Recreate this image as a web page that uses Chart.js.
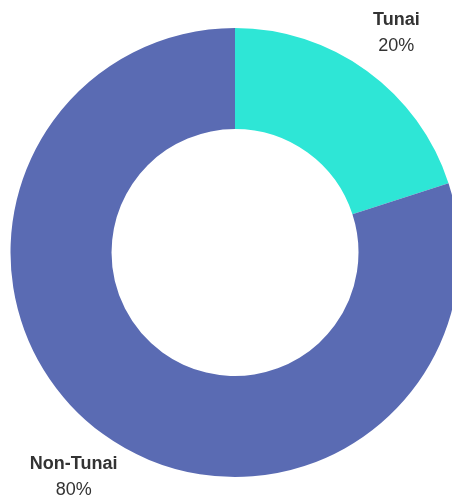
<!DOCTYPE html>
<html>
<head>
<meta charset="utf-8">
<script src="https://cdn.jsdelivr.net/npm/chart.js@4"></script>
<style>
html,body{margin:0;padding:0;overflow:hidden;background:#fff;}
#wrap{position:absolute;left:0;top:0;width:470px;height:497px;}
</style>
</head>
<body>
<div id="wrap"><canvas id="c" width="470" height="497"></canvas></div>
<script>
const categories = ['Tunai', 'Non-Tunai'];
const values = [20, 80];
const valueLabels = ['20%', '80%'];
const colors = ['#2EE6D6', '#5A6BB3'];

const outerLabels = {
  id: 'outerLabels',
  afterDraw(chart) {
    const ctx = chart.ctx;
    const meta = chart.getDatasetMeta(0);
    meta.data.forEach((arc, i) => {
      const mid = (arc.startAngle + arc.endAngle) / 2;
      const r = arc.outerRadius + 50;
      const x = arc.x + Math.cos(mid) * r;
      const y = arc.y + Math.sin(mid) * r + 2.5;
      ctx.save();
      ctx.textAlign = 'center';
      ctx.textBaseline = 'middle';
      ctx.fillStyle = '#333333';
      ctx.font = 'bold 18px "Liberation Sans", Arial, sans-serif';
      ctx.fillText(categories[i], x, y - 13);
      ctx.font = '18px "Liberation Sans", Arial, sans-serif';
      ctx.fillText(valueLabels[i], x, y + 13);
      ctx.restore();
    });
  }
};

new Chart(document.getElementById('c'), {
  type: 'doughnut',
  data: {
    labels: categories,
    datasets: [{
      data: values,
      backgroundColor: colors,
      borderWidth: 0
    }]
  },
  options: {
    responsive: false,
    animation: false,
    cutout: '55%',
    layout: { padding: { left: 10.5, right: 10.5, top: 28, bottom: 20 } },
    plugins: { legend: { display: false }, tooltip: { enabled: false } }
  },
  plugins: [outerLabels]
});
</script>
</body>
</html>
